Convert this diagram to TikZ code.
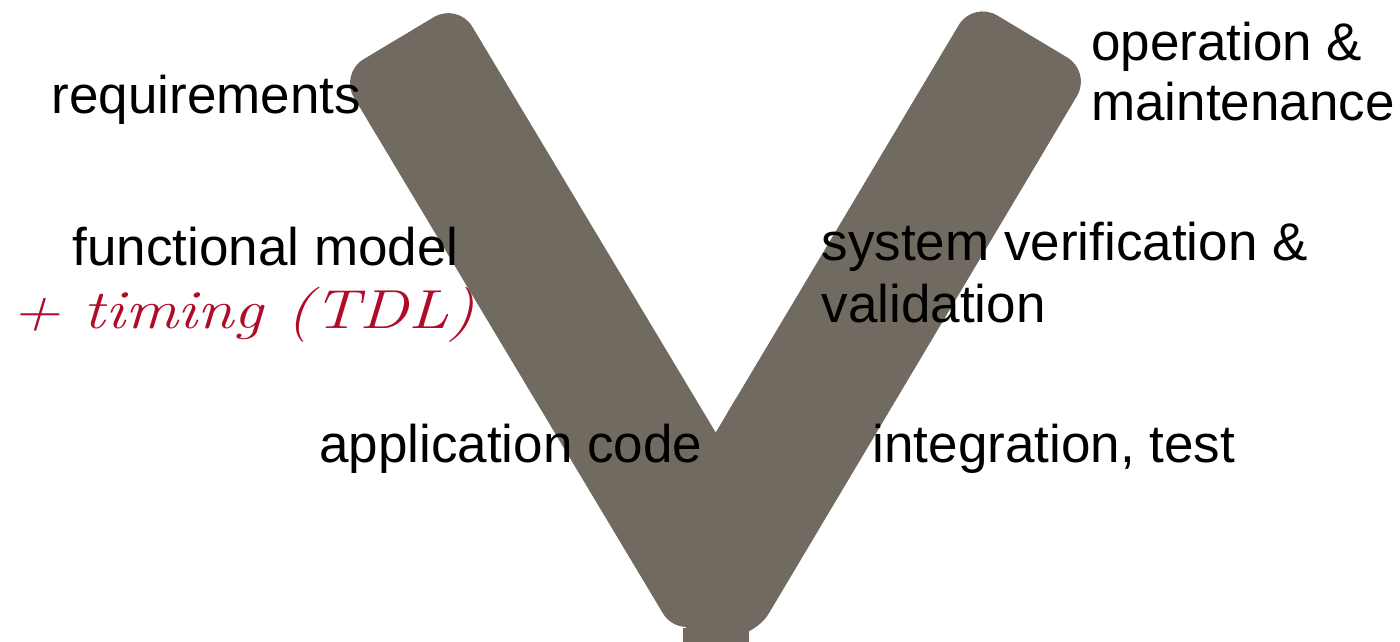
\documentclass[tikz,border=0pt]{standalone}
\usepackage{fontspec}
\setsansfont{Liberation Sans}
\usepackage{graphicx}
\definecolor{vgrey}{HTML}{706A60}
\definecolor{hred}{HTML}{AF0C29}
\begin{document}
\begin{tikzpicture}[x=1pt,y=-1pt,
  vshape/.style={fill=vgrey, rounded corners=28pt},
  lbl/.style={font=\sffamily\fontsize{53}{62}\selectfont, inner sep=0pt, anchor=base west, text=black},
  hand/.style={font=\rmfamily\itshape\fontsize{55}{60}\selectfont, inner sep=0pt, anchor=base west, text=hred}]
\useasboundingbox (0,0) rectangle (1400,642);
% V outline points
\coordinate (A) at (339.6,73.6);
\coordinate (B) at (457.9,2.7);
\coordinate (Bp) at (795.6,565.7);
\coordinate (C) at (716,432);
\coordinate (D) at (973.1,1.0);
\coordinate (E) at (1091.3,71.9);
\coordinate (F) at (754.5,637.5);
\coordinate (G) at (677.4,637.5);
\coordinate (C1) at (736.5,397.6);
\coordinate (C2) at (708.6,471.3);
% left bar
\fill[vshape] (A) -- (B) -- (Bp) -- (G) -- cycle;
% right bar
\fill[vshape] (C) -- (D) -- (E) -- (F) -- (G) -- cycle;
% sharp inner vertex
\fill[vgrey] (C) -- (C1) -- (C2) -- cycle;
% stem at the bottom
\fill[vgrey] (683,628) rectangle (749,650);
% labels
\node[lbl] (req) at (51.5,113) {requirements};
\node[lbl] (op) at (1091,60) {operation \&};
\node[lbl] (mt) at (1091,120) {maintenance};
\node[lbl] (fm) at (72.5,265) {functional model};
\node[hand] (tdl) at (11,328) {\scalebox{1.2}[1]{+ timing (TDL)}};
\node[lbl] (sv) at (821.5,260) {system verification \&};
\node[lbl] (va) at (821.5,322) {validation};
\node[lbl] (ac) at (319,462) {application code};
\node[lbl] (it) at (872.5,462) {integration, test};
\end{tikzpicture}
\end{document}
